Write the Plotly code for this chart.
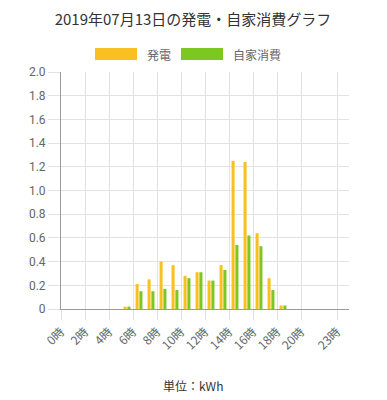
import plotly.graph_objects as go

hours = list(range(24))
hour_labels = [f"{h}時" for h in hours]
generation = [0, 0, 0, 0, 0, 0.02, 0.21, 0.25, 0.40, 0.37, 0.28, 0.31,
              0.24, 0.37, 1.25, 1.24, 0.64, 0.26, 0.03, 0, 0, 0, 0, 0]
self_consumption = [0, 0, 0, 0, 0, 0.02, 0.15, 0.15, 0.17, 0.16, 0.26, 0.31,
                    0.24, 0.33, 0.54, 0.62, 0.53, 0.16, 0.03, 0, 0, 0, 0, 0]
x_tick_hours = [0, 2, 4, 6, 8, 10, 12, 14, 16, 18, 20, 23]
y_tick_vals = [0, 0.2, 0.4, 0.6, 0.8, 1.0, 1.2, 1.4, 1.6, 1.8, 2.0]
y_tick_text = ["0", "0.2", "0.4", "0.6", "0.8", "1.0", "1.2", "1.4", "1.6", "1.8", "2.0"]
series_names = ["発電", "自家消費"]
colors = ["#FAC022", "#7DC722"]
title_text = "2019年07月13日の発電・自家消費グラフ"
unit_text = "単位：kWh"

FONT = "Noto Sans CJK JP"
GRID = "#e2e2e2"
AXIS = "#9a9a9a"

# page has an 8px body margin: size the figure so the plot lands where the original does
OFF = 8
W, H = 387 - OFF, 400 - OFF

xpos = [h + 0.5 for h in hours]

fig = go.Figure()
fig.add_trace(go.Bar(x=xpos, y=generation, name=series_names[0],
                     marker=dict(color=colors[0], line=dict(width=0))))
fig.add_trace(go.Bar(x=xpos, y=self_consumption, name=series_names[1],
                     marker=dict(color=colors[1], line=dict(width=0))))

fig.update_layout(
    width=W, height=H,
    margin=dict(l=61 - OFF, r=38, t=72 - OFF, b=91),
    paper_bgcolor="white", plot_bgcolor="white",
    barmode="group", bargap=0.36, bargroupgap=0.2,
    showlegend=False,
    font=dict(family=FONT, color="#666666", size=12),
    title=dict(text=title_text, x=(193 - OFF) / W, xanchor="center",
               y=1 - (20 - OFF) / H, yanchor="middle",
               font=dict(family=FONT, size=15, color="#333333")),
)

fig.update_xaxes(
    range=[0, 24],
    tickmode="array", tickvals=x_tick_hours,
    ticktext=[hour_labels[h] for h in x_tick_hours],
    tickangle=-45,
    showgrid=True, gridcolor=GRID, gridwidth=1,
    ticks="outside", ticklen=10, tickcolor=GRID,
    showline=True, linecolor=AXIS, linewidth=1,
    zeroline=False,
    tickfont=dict(family=FONT, size=12, color="#666666"),
)
fig.update_yaxes(
    range=[0, 2.0],
    tickmode="array", tickvals=y_tick_vals, ticktext=y_tick_text,
    showgrid=True, gridcolor=GRID, gridwidth=1,
    ticks="outside", ticklen=12, tickcolor=GRID,
    showline=True, linecolor=AXIS, linewidth=1,
    zeroline=False,
    tickfont=dict(family="Roboto", size=12, color="#666666"),
)

# custom legend (wide colour boxes like the original), positions given in page pixels
plot_left, plot_w = 61, 288
plot_top, plot_h = 72, 237
def px_x(px):
    return (px - plot_left) / plot_w
def px_y(py):
    return (plot_top + plot_h - py) / plot_h

shapes = []
annotations = []
legend_items = [(95, 137, 145), (181, 223, 231)]
for (x0, x1, tx), name, col in zip(legend_items, series_names, colors):
    shapes.append(dict(type="rect", xref="paper", yref="paper",
                       x0=px_x(x0), x1=px_x(x1), y0=px_y(60), y1=px_y(48),
                       fillcolor=col, line=dict(width=0)))
    annotations.append(dict(text=name, xref="paper", yref="paper",
                            x=px_x(tx), y=px_y(54), xanchor="left", yanchor="middle",
                            showarrow=False,
                            font=dict(family=FONT, size=12, color="#666666")))

annotations.append(dict(text=unit_text, xref="paper", yref="paper",
                        x=px_x(193), y=px_y(385), xanchor="center", yanchor="middle",
                        showarrow=False, font=dict(family=FONT, size=12, color="#333333")))

fig.update_layout(shapes=shapes, annotations=annotations)

fig.write_html("out.html")
